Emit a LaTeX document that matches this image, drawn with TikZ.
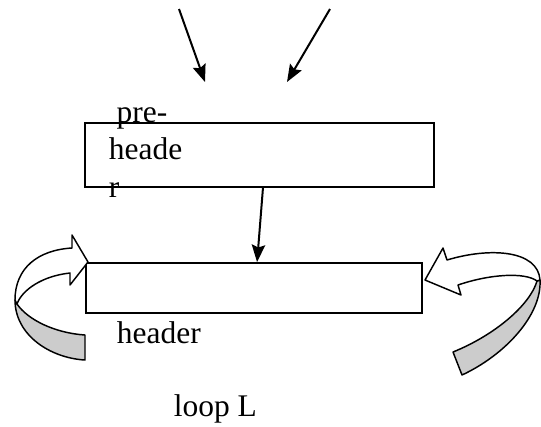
\documentclass[tikz,border=0pt]{standalone}
\usepackage{fontspec}
\setmainfont{Liberation Serif}
\usepackage{tikz}
\usetikzlibrary{arrows.meta, calc, positioning}
\usepackage{xcolor}
\definecolor{mBand}{HTML}{CCCCCC}

\begin{document}
\begin{tikzpicture}[x=0.75pt, y=-0.75pt, >={Stealth[length=13pt, width=10pt, inset=2pt]},
    line width=1.3pt,
    blockbox/.style={draw, rectangle, inner sep=0pt},
    lbl/.style={inner sep=0pt, font=\fontsize{23.6}{27.8}\selectfont},
    edge/.style={->, line width=1.5pt},
    bandfront/.style={draw, fill=white, line width=1.1pt, line join=round},
    bandback/.style={draw, fill=mBand, line width=1.1pt, line join=round}]
  \useasboundingbox (0,0) rectangle (541,426);
  % the two boxes
  \node[blockbox, minimum width=261.75pt, minimum height=48pt] (preheader) at (259.5,155) {};
  \node[blockbox, minimum width=252pt, minimum height=37.5pt] (header) at (254,288) {};
  \node[lbl, anchor=base west, align=left] (prelbl) at (108,197)
    {\hspace*{0.25em}pre-\\heade\\r};
  \node[lbl, anchor=base west] (headlbl) at (116,343) {header};
  \node[lbl, anchor=base west] (looplbl) at (173,416) {loop L};
  % incoming edges
  \coordinate (inA) at (179,9);
  \coordinate (inAend) at (205,82);
  \coordinate (inB) at (330,9);
  \coordinate (inBend) at (287,82);
  \draw[edge] (inA) -- (inAend);
  \draw[edge] (inB) -- (inBend);
  \draw[edge] ([xshift=2.6pt]preheader.south) -- ([xshift=2.3pt]header.north);
  % left back edge, twisted band
  \draw[bandback] (15,300) .. controls (15,335) and (50,358) .. (85,360)
    -- (85,335) .. controls (55,333) and (28,320) .. (17,304) -- cycle;
  \draw[bandfront] (15,300) .. controls (15,268) and (38,250) .. (72,248)
    -- (72,235) -- (88,262) -- (70,285) -- (70,273)
    .. controls (42,276) and (22,290) .. (17,304) -- cycle;
  % right back edge, twisted band
  \draw[bandback] (540,280) .. controls (542,315) and (505,355) .. (462,375)
    -- (453,352) .. controls (495,335) and (530,305) .. (537,281) -- cycle;
  \draw[bandfront] (458,285) -- (461,295) -- (425,280) -- (443,248) -- (447,260)
    .. controls (490,247) and (538,250) .. (540,280) -- (537,281)
    .. controls (525,272) and (490,274) .. (458,285) -- cycle;
\end{tikzpicture}
\end{document}
